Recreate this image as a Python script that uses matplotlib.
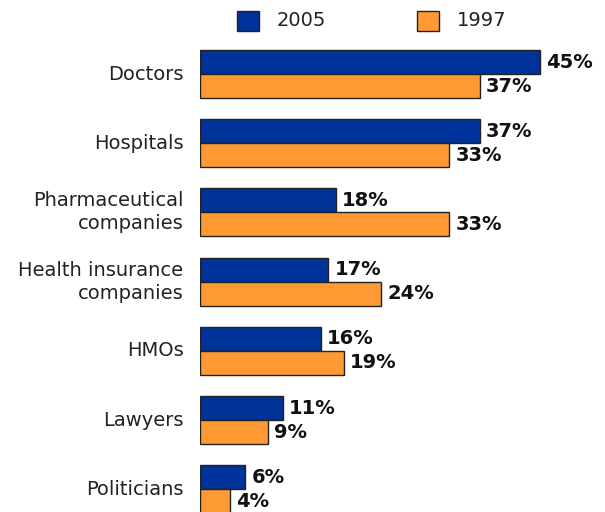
import matplotlib.pyplot as plt
from matplotlib.patches import Rectangle

categories = ["Doctors", "Hospitals", "Pharmaceutical\ncompanies",
              "Health insurance\ncompanies", "HMOs", "Lawyers", "Politicians"]
values_2005 = [45, 37, 18, 17, 16, 11, 6]
values_1997 = [37, 33, 33, 24, 19, 9, 4]
series_names = ["2005", "1997"]

blue = "#003399"
orange = "#FF9933"
edge = "#222222"

fig = plt.figure(figsize=(6.05, 5.12), dpi=100)
# axes left edge at 200 px, spans full height
ax = fig.add_axes([200 / 605, 0, 390 / 605, 1])

px_per_unit = 69.2
h = 24 / px_per_unit
top = -74 / px_per_unit
ax.set_ylim(top + 512 / px_per_unit, top)
ax.set_xlim(0, 390 / 7.556)

ys = list(range(len(categories)))
ax.barh([y - h / 2 for y in ys], values_2005, height=h, color=blue,
        edgecolor=edge, linewidth=1)
ax.barh([y + h / 2 for y in ys], values_1997, height=h, color=orange,
        edgecolor=edge, linewidth=1)

for y, v in zip(ys, values_2005):
    ax.text(v + 0.8, y - h / 2, f"{v}%", va="center", ha="left",
            fontsize=14, fontweight="bold", color="#111111")
for y, v in zip(ys, values_1997):
    ax.text(v + 0.8, y + h / 2, f"{v}%", va="center", ha="left",
            fontsize=14, fontweight="bold", color="#111111")

for y, c in zip(ys, categories):
    ax.text(-2.2, y, c, va="center", ha="right", fontsize=14,
            color="#222222", linespacing=1.27)

ax.axis("off")

# legend drawn in figure pixels
for x0, col, name in [(237, blue, series_names[0]), (417, orange, series_names[1])]:
    fig.patches.append(Rectangle((x0 / 605, 1 - 31 / 512), 22 / 605, 20 / 512,
                                 transform=fig.transFigure, facecolor=col,
                                 edgecolor=edge, linewidth=1))
    fig.text((x0 + 40) / 605, 1 - 21 / 512, name, va="center", ha="left",
             fontsize=14, color="#222222")

fig.savefig("out.png", dpi=100)
